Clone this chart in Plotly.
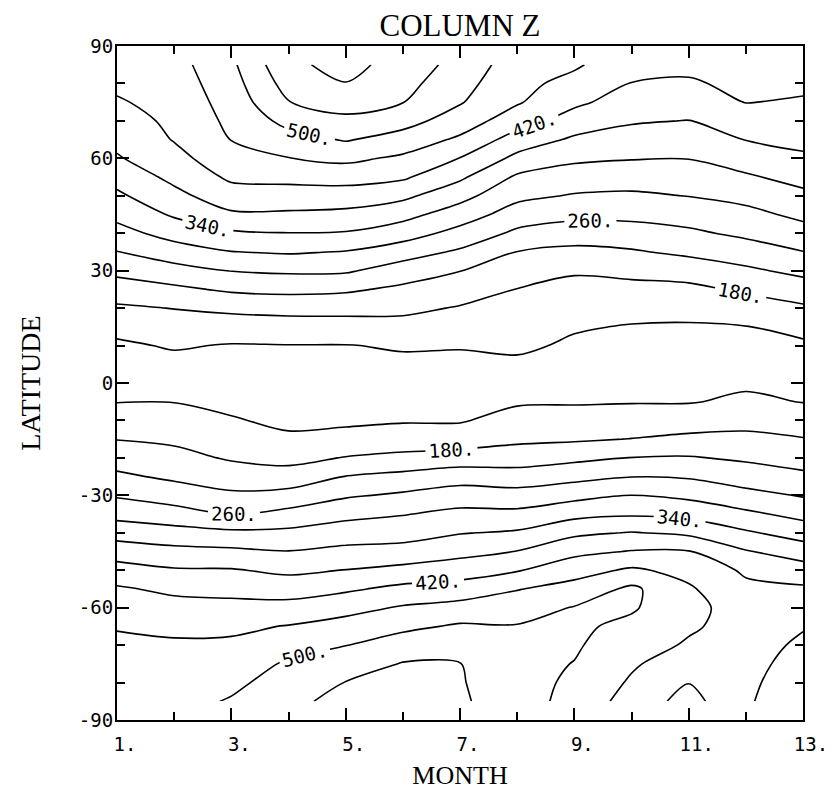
import plotly.graph_objects as go

# ---- data ----
months = list(range(1, 14))
latitudes = list(range(-85, 90, 5))

# rows: latitude -85 ... 85, columns: month 1 ... 13
column_z = [
    [485, 488, 503, 528, 555, 556, 545, 520, 485, 445, 405, 456, 482],  # -85
    [479, 480, 492, 516, 541, 550, 543, 515, 493, 455, 421, 454, 476],  # -80
    [472, 472, 480, 505, 520, 542, 541, 511, 499, 465, 438, 451, 471],  # -75
    [466, 465, 467, 486, 499, 520, 524, 506, 504, 480, 455, 448, 465],  # -70
    [458, 452, 452, 462, 475, 491, 505, 502, 506, 492, 466, 443, 458],  # -65
    [442, 434, 431, 433, 447, 464, 474, 484, 502, 504, 475, 437, 442],  # -60
    [425, 412, 409, 403, 414, 430, 437, 458, 475, 508, 465, 429, 426],  # -55
    [396, 384, 383, 372, 381, 391, 401, 417, 444, 466, 448, 414, 398],  # -50
    [361, 351, 348, 341, 350, 354, 368, 381, 410, 422, 422, 383, 360],  # -45
    [324, 315, 308, 309, 320, 324, 338, 345, 372, 382, 372, 345, 323],  # -40
    [287, 276, 259, 272, 289, 298, 310, 310, 328, 335, 328, 308, 288],  # -35
    [256, 241, 227, 233, 255, 266, 279, 275, 288, 301, 291, 272, 257],  # -30
    [227, 213, 200, 197, 221, 231, 243, 238, 248, 259, 256, 241, 228],  # -25
    [203, 192, 176, 168, 182, 190, 198, 201, 211, 221, 223, 214, 204],  # -20
    [179, 173, 159, 144, 151, 158, 159, 172, 175, 181, 189, 190, 182],  # -15
    [158, 157, 142, 135, 134, 137, 137, 153, 154, 158, 160, 167, 159],  # -10
    [139, 139, 134, 129, 126, 128, 128, 136, 137, 138, 138, 146, 139],  # -5
    [130, 129, 126, 127, 126, 126, 125, 122, 130, 131, 132, 135, 130],  # 0
    [128, 131, 131, 133, 132, 134, 133, 134, 128, 126, 125, 127, 128],  # 5
    [135, 143, 138, 139, 139, 143, 142, 146, 135, 132, 131, 131, 135],  # 10
    [149, 162, 159, 162, 163, 167, 160, 157, 143, 138, 137, 139, 149],  # 15
    [174, 181, 189, 193, 193, 189, 177, 168, 156, 151, 150, 161, 174],  # 20
    [201, 212, 226, 230, 226, 212, 198, 179, 169, 169, 171, 186, 201],  # 25
    [230, 246, 261, 266, 265, 241, 221, 199, 184, 190, 197, 213, 230],  # 30
    [259, 281, 299, 304, 298, 278, 254, 219, 210, 216, 228, 241, 259],  # 35
    [286, 315, 334, 339, 337, 318, 287, 252, 240, 243, 253, 268, 285],  # 40
    [311, 345, 374, 374, 370, 353, 320, 282, 270, 270, 277, 289, 309],  # 45
    [333, 369, 403, 403, 402, 389, 353, 310, 297, 294, 301, 312, 331],  # 50
    [354, 390, 427, 431, 435, 426, 387, 334, 322, 318, 320, 335, 353],  # 55
    [376, 408, 444, 459, 469, 453, 419, 370, 347, 342, 341, 358, 374],  # 60
    [391, 422, 461, 485, 503, 484, 453, 402, 374, 363, 360, 381, 390],  # 65
    [403, 428, 469, 512, 531, 514, 481, 438, 402, 384, 379, 402, 403],  # 70
    [416, 434, 476, 539, 556, 541, 503, 464, 428, 402, 398, 421, 416],  # 75
    [428, 439, 484, 556, 579, 553, 514, 472, 447, 419, 416, 428, 428],  # 80
    [440, 445, 492, 572, 592, 565, 525, 480, 466, 432, 428, 435, 440],  # 85
]

month_tick_values = [1, 3, 5, 7, 9, 11, 13]
month_tick_labels = ["1.", "3.", "5.", "7.", "9.", "11.", "13."]
lat_tick_values = [-90, -60, -30, 0, 30, 60, 90]
lat_tick_labels = ["-90", "-60", "-30", "0", "30", "60", "90"]

labeled_levels = (180, 500, 80)     # 180, 260, 340, 420, 500 (labelled)
plain_levels = (140, 540, 80)       # 140, 220, 300, 380, 460, 540
top_levels = (580, 580, 80)         # 580

MONO = "DejaVu Sans Mono"
SERIF = "Liberation Serif"
W, H = 824, 782   # page body adds an 8 px margin around the figure

fig = go.Figure()


def add_contours(levels, labels):
    start, end, size = levels
    fig.add_trace(go.Contour(
        x=months, y=latitudes, z=column_z,
        autocontour=False,
        contours=dict(start=start, end=end, size=size, coloring="none",
                      showlabels=labels,
                      labelfont=dict(family=MONO, size=19, color="black"),
                      labelformat="$.0f"),
        line=dict(color="black", width=1.6, smoothing=0.9),
        showscale=False, hoverinfo="skip",
    ))


add_contours(plain_levels, False)
add_contours(top_levels, False)
add_contours(labeled_levels, True)

axis_common = dict(
    showline=True, linecolor="black", linewidth=2, mirror="allticks",
    ticks="inside", ticklen=12, tickwidth=1.5, tickcolor="black",
    showgrid=False, zeroline=False,
    tickfont=dict(family=MONO, size=19, color="black"),
)

fig.update_layout(
    width=W, height=H,
    paper_bgcolor="white", plot_bgcolor="white",
    margin=dict(l=109, r=29, t=38, b=70, autoexpand=False),
    showlegend=False,
    title=dict(text="COLUMN Z", x=0.5, xanchor="center", xref="paper",
               y=1 - 17 / H, yanchor="middle", yref="container",
               font=dict(family=SERIF, size=31, color="black")),
    xaxis=dict(range=[1, 13], tickvals=month_tick_values, ticktext=month_tick_labels,
               minor=dict(dtick=1, tick0=1, ticks="inside", ticklen=8, tickcolor="black", tickwidth=1.5),
               ticklabelshift=8, ticklabelstandoff=6,
               title=dict(text="MONTH", font=dict(family=SERIF, size=26, color="black"), standoff=12),
               **axis_common),
    yaxis=dict(range=[-90, 90], tickvals=lat_tick_values, ticktext=lat_tick_labels,
               minor=dict(dtick=10, tick0=0, ticks="inside", ticklen=8, tickcolor="black", tickwidth=1.5),
               ticklabelstandoff=-2,
               title=dict(text="LATITUDE", font=dict(family=SERIF, size=28, color="black"), standoff=30),
               **axis_common),
)

fig.write_html("out.html", config={"locale": "zz", "displayModeBar": False,
                                   "locales": {"zz": {"format": {"currency": ["", "."]}}}})
